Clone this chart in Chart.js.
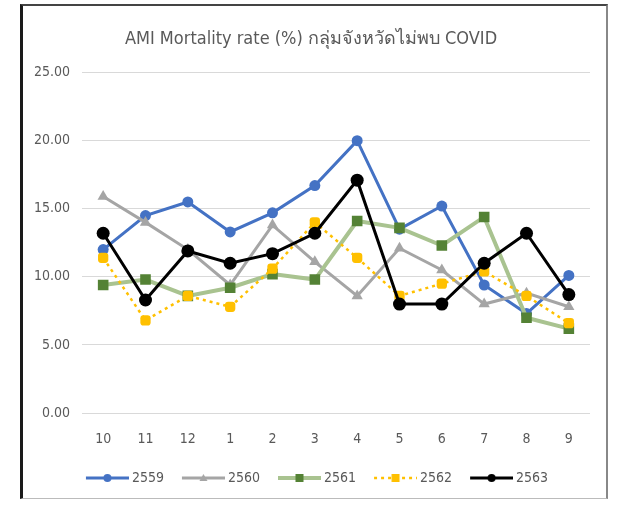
<!DOCTYPE html>
<html>
<head>
<meta charset="utf-8">
<script src="https://cdn.jsdelivr.net/npm/chart.js@4.4.1/dist/chart.umd.min.js"></script>
<style>
    html, body { margin: 0; padding: 0; background: #fff; }
    #wrap { position: relative; width: 618px; height: 506px; }
    #frame {
        position: absolute; left: 20px; top: 4px; width: 583px; height: 492px;
        border-left: 3px solid #1a1a1a; border-top: 2px solid #444;
        border-right: 2px solid #888; border-bottom: 1px solid #bbb;
        pointer-events: none;
    }
</style>
</head>
<body>
<div id="wrap">
    <canvas id="amiChart" width="618" height="506"></canvas>
    <div id="frame"></div>
</div>
<script>
const months = ['10', '11', '12', '1', '2', '3', '4', '5', '6', '7', '8', '9'];
const rate2559 = [12.0, 14.5, 15.5, 13.3, 14.7, 16.7, 20.0, 13.5, 15.2, 9.4, 7.3, 10.1];
const rate2560 = [15.9, 14.0, 12.0, 9.4, 13.8, 11.1, 8.6, 12.1, 10.5, 8.0, 8.8, 7.8];
const rate2561 = [9.4, 9.8, 8.6, 9.2, 10.2, 9.8, 14.1, 13.6, 12.3, 14.4, 7.0, 6.2];
const rate2562 = [11.4, 6.8, 8.6, 7.8, 10.6, 14.0, 11.4, 8.6, 9.5, 10.4, 8.6, 6.6];
const rate2563 = [13.2, 8.3, 11.9, 11.0, 11.7, 13.2, 17.1, 8.0, 8.0, 11.0, 13.2, 8.7];
const yMin = 0, yMax = 25, yStep = 5;

const textColor = '#595959';
const fontFamily = "'DejaVu Sans Condensed', 'Liberation Sans', sans-serif";

// legend icon: line + marker, with empty space on the left so it sits close to the text
function legendIcon(s) {
    const c = document.createElement('canvas');
    c.width = 59; c.height = 14;
    const g = c.getContext('2d');
    g.strokeStyle = s.line;
    g.lineWidth = s.width;
    g.setLineDash(s.dash || []);
    g.beginPath(); g.moveTo(16, 7); g.lineTo(59, 7); g.stroke();
    g.setLineDash([]);
    g.fillStyle = s.fill;
    const cx = 37.5;
    if (s.marker === 'circle') { g.beginPath(); g.arc(cx, 7, 4, 0, Math.PI * 2); g.fill(); }
    else if (s.marker === 'triangle') { g.beginPath(); g.moveTo(cx, 3); g.lineTo(cx + 4, 10); g.lineTo(cx - 4, 10); g.closePath(); g.fill(); }
    else { g.fillRect(cx - 4, 3, 8, 8); }
    return c;
}

const styles = [
    { name: '2559', data: rate2559, line: '#4472C4', fill: '#4472C4', width: 3, marker: 'circle', radius: 5.5, order: 5 },
    { name: '2560', data: rate2560, line: '#A5A5A5', fill: '#A5A5A5', width: 3, marker: 'triangle', radius: 6.5, order: 4 },
    { name: '2561', data: rate2561, line: '#A9C390', fill: '#548235', width: 4, marker: 'rect', radius: 7.5, order: 3 },
    { name: '2562', data: rate2562, line: '#FFC000', fill: '#FFC000', width: 2.5, marker: 'rectRounded', radius: 6, order: 2, dash: [3, 4] },
    { name: '2563', data: rate2563, line: '#000000', fill: '#000000', width: 3, marker: 'circle', radius: 6.5, order: 1 }
];

const datasets = styles.map(s => ({
    label: s.name,
    data: s.data,
    borderColor: s.line,
    backgroundColor: s.fill,
    borderWidth: s.width,
    borderDash: s.dash || [],
    pointStyle: s.marker,
    pointRadius: s.radius,
    pointBackgroundColor: s.fill,
    pointBorderColor: s.fill,
    pointBorderWidth: 0,
    tension: 0,
    order: s.order,
    icon: legendIcon(s)
}));

const chart = new Chart(document.getElementById('amiChart').getContext('2d'), {
    type: 'line',
    data: { labels: months, datasets: datasets },
    options: {
        responsive: false,
        animation: false,
        layout: { padding: { left: 32, right: 28, top: 0, bottom: 11 } },
        plugins: {
            title: {
                display: true,
                text: 'AMI Mortality rate (%) กลุ่มจังหวัดไม่พบ COVID',
                color: textColor,
                font: { family: fontFamily, size: 18, weight: 'normal' },
                padding: { top: 29, bottom: 22 }
            },
            legend: {
                position: 'bottom',
                labels: {
                    usePointStyle: true,
                    pointStyleWidth: 51,
                    padding: 6,
                    color: textColor,
                    font: { family: fontFamily, size: 14 },
                    sort: (a, b) => a.datasetIndex - b.datasetIndex,
                    generateLabels: function (c) {
                        const items = Chart.defaults.plugins.legend.labels.generateLabels(c);
                        items.forEach(it => { it.pointStyle = c.data.datasets[it.datasetIndex].icon; });
                        return items;
                    }
                }
            },
            tooltip: { enabled: false }
        },
        scales: {
            x: {
                offset: true,
                grid: { display: false, drawTicks: false },
                border: { display: false },
                ticks: { color: textColor, padding: 18, font: { family: fontFamily, size: 14 } },
                afterFit: function (scale) { scale.height = 52; }
            },
            y: {
                min: yMin,
                max: yMax,
                grid: { color: '#d9d9d9', lineWidth: 1, drawTicks: false },
                border: { display: false },
                ticks: {
                    stepSize: yStep,
                    padding: 12,
                    color: textColor,
                    font: { family: fontFamily, size: 14 },
                    callback: v => v.toFixed(2)
                },
                afterFit: function (scale) { scale.width = 50; }
            }
        }
    }
});
</script>
</body>
</html>
